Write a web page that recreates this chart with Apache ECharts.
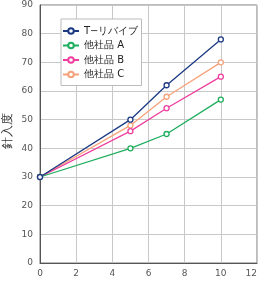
<!DOCTYPE html>
<html><head><meta charset="utf-8">
<script src="https://cdn.jsdelivr.net/npm/echarts@6/dist/echarts.min.js"></script>
<style>html,body{margin:0;padding:0;background:#fff}#c{width:259px;height:290px}</style>
</head><body><div id="c"></div>
<script>
const xValues = [0, 5, 7, 10];
const seriesNames = ['T−リバイブ', '他社品 A', '他社品 B', '他社品 C'];
const tRevive = [30, 50, 62, 78];
const otherA = [30, 40, 45, 57];
const otherB = [30, 46, 54, 65];
const otherC = [30, 48, 58, 70];
const colors = ['#1c3a84', '#1fae5e', '#ee3f9e', '#f7a27a'];

const allData = [tRevive, otherA, otherB, otherC];
const chart = echarts.init(document.getElementById('c'), null, {renderer: 'canvas'});
const font = 'DejaVu Sans';
chart.setOption({
  animation: false,
  backgroundColor: '#fff',
  grid: {left: 40, top: 5, width: 217, height: 258, containLabel: false, outerBoundsMode: 'none',
         show: true, borderColor: '#777', borderWidth: 1, backgroundColor: '#fff'},
  legend: {
    orient: 'vertical', left: 61, top: 19,
    backgroundColor: '#fff', borderColor: '#bbb', borderWidth: 1,
    padding: [7, 3, 6, 1],
    itemWidth: 16, itemHeight: 7, itemGap: 4.5,
    textStyle: {fontFamily: font, fontSize: 10, color: '#222'},
    data: seriesNames
  },
  xAxis: {
    type: 'value', min: 0, max: 12, interval: 2,
    axisLine: {lineStyle: {color: '#555'}},
    axisTick: {show: false},
    axisLabel: {fontFamily: font, fontSize: 9, color: '#555', margin: 6, alignMaxLabel: 'right'},
    splitLine: {lineStyle: {color: '#c8c8c8'}}
  },
  yAxis: {
    type: 'value', min: 0, max: 90, interval: 10,
    name: '針入度', nameLocation: 'middle', nameGap: 26, nameMoveOverlap: false,
    nameTextStyle: {fontFamily: font, fontSize: 12, color: '#333', padding: [0, 0, 0, 6]},
    axisLine: {show: true, lineStyle: {color: '#555'}},
    axisTick: {show: false},
    axisLabel: {fontFamily: font, fontSize: 9, color: '#555', margin: 7},
    splitLine: {lineStyle: {color: '#c8c8c8'}}
  },
  series: allData.map((d, i) => ({
    name: seriesNames[i], type: 'line',
    data: d.map((v, j) => [xValues[j], v]),
    color: colors[i],
    lineStyle: {width: 1.3, color: colors[i]},
    symbol: 'circle', symbolSize: 5,
    itemStyle: {color: '#fff', borderColor: colors[i], borderWidth: 1.3},
    z: 10 - i
  }))
});
</script></body></html>
